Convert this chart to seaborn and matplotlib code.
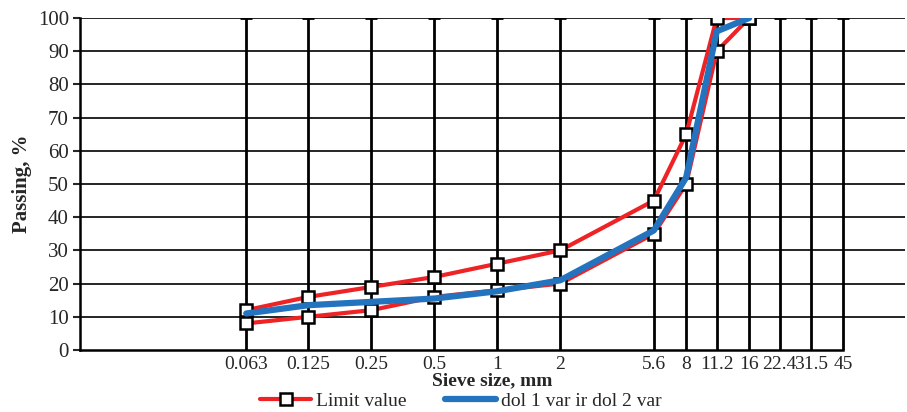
import numpy as np
import pandas as pd
import matplotlib
matplotlib.use("Agg")
import matplotlib.pyplot as plt
import seaborn as sns
from matplotlib.lines import Line2D

# sieve sizes and passing values
sieves = [0.063, 0.125, 0.25, 0.5, 1, 2, 5.6, 8, 11.2, 16, 22.4, 31.5, 45]
sieve_labels = ["0.063", "0.125", "0.25", "0.5", "1", "2", "5.6", "8", "11.2", "16", "22.4", "31.5", "45"]
curve_sizes = [0.063, 0.125, 0.25, 0.5, 1, 2, 5.6, 8, 11.2, 16]
upper_limit = [12, 16, 19, 22, 26, 30, 45, 65, 100, 100]
lower_limit = [8, 10, 12, 16, 18, 20, 35, 50, 90, 100]
mixture = [11, 13.5, 14.5, 15.5, 17.7, 21, 36, 52, 96, 100]

red = "#EE2326"
blue = "#2473BE"

sns.set_style("white")
plt.rcParams["font.family"] = ["Liberation Serif", "DejaVu Serif"]

fig = plt.figure(figsize=(9.07, 4.12), dpi=100)
ax = fig.add_axes([80 / 907, 62 / 412, 825 / 907, 332 / 412])
ax.set_xscale("log", base=2)
ax.set_xlim(0.0101, 89)
ax.set_ylim(0, 100)

# horizontal grid
for y in range(10, 101, 10):
    ax.axhline(y, color="black", lw=1.2, zorder=1)

# vertical sieve lines with caps
ax.vlines(sieves, 0, 100, color="black", lw=2, zorder=2)
ax.plot(sieves, [100] * len(sieves), ls="none", marker="_", ms=9, mew=2, color="black", zorder=2)

df = pd.DataFrame({"size": curve_sizes, "upper": upper_limit, "lower": lower_limit, "mix": mixture})
mk = dict(marker="s", markersize=9, markerfacecolor="white", markeredgecolor="black", markeredgewidth=1.8)
sns.lineplot(data=df, x="size", y="upper", color=red, lw=3, ax=ax, zorder=3, **mk)
sns.lineplot(data=df, x="size", y="lower", color=red, lw=3, ax=ax, zorder=3, **mk)
sns.lineplot(data=df, x="size", y="mix", color=blue, lw=4.5, ax=ax, zorder=4)

ax.set_xticks(sieves)
ax.set_xticklabels(sieve_labels)
ax.xaxis.set_minor_locator(matplotlib.ticker.NullLocator())
ax.set_yticks(range(0, 101, 10))
ax.tick_params(axis="x", length=0, labelsize=14, pad=4)
ax.tick_params(axis="y", length=5, width=1.5, direction="out", left=True, labelsize=15, pad=3)

for s in ["top", "right"]:
    ax.spines[s].set_visible(False)
ax.spines["left"].set_linewidth(1.8)
ax.spines["bottom"].set_linewidth(1.8)
ax.spines["left"].set_color("black")
ax.spines["bottom"].set_color("black")
ax.spines["bottom"].set_bounds(0.0101, 45)

ax.set_xlabel("Sieve size, mm", fontsize=14, fontweight="bold", labelpad=0)
ax.set_ylabel("Passing, %", fontsize=15, fontweight="bold", labelpad=4)

handles = [
    Line2D([], [], color=red, lw=3, **mk),
    Line2D([], [], color=blue, lw=4.5),
]
fig.legend(handles, ["Limit value", "dol 1 var ir dol 2 var"], loc="center",
           bbox_to_anchor=(0.508, 0.026), ncol=2, frameon=False, fontsize=14,
           handlelength=2.6, columnspacing=2.0, handletextpad=0.25,
           borderpad=0, borderaxespad=0)

fig.savefig("out.png", dpi=100)
